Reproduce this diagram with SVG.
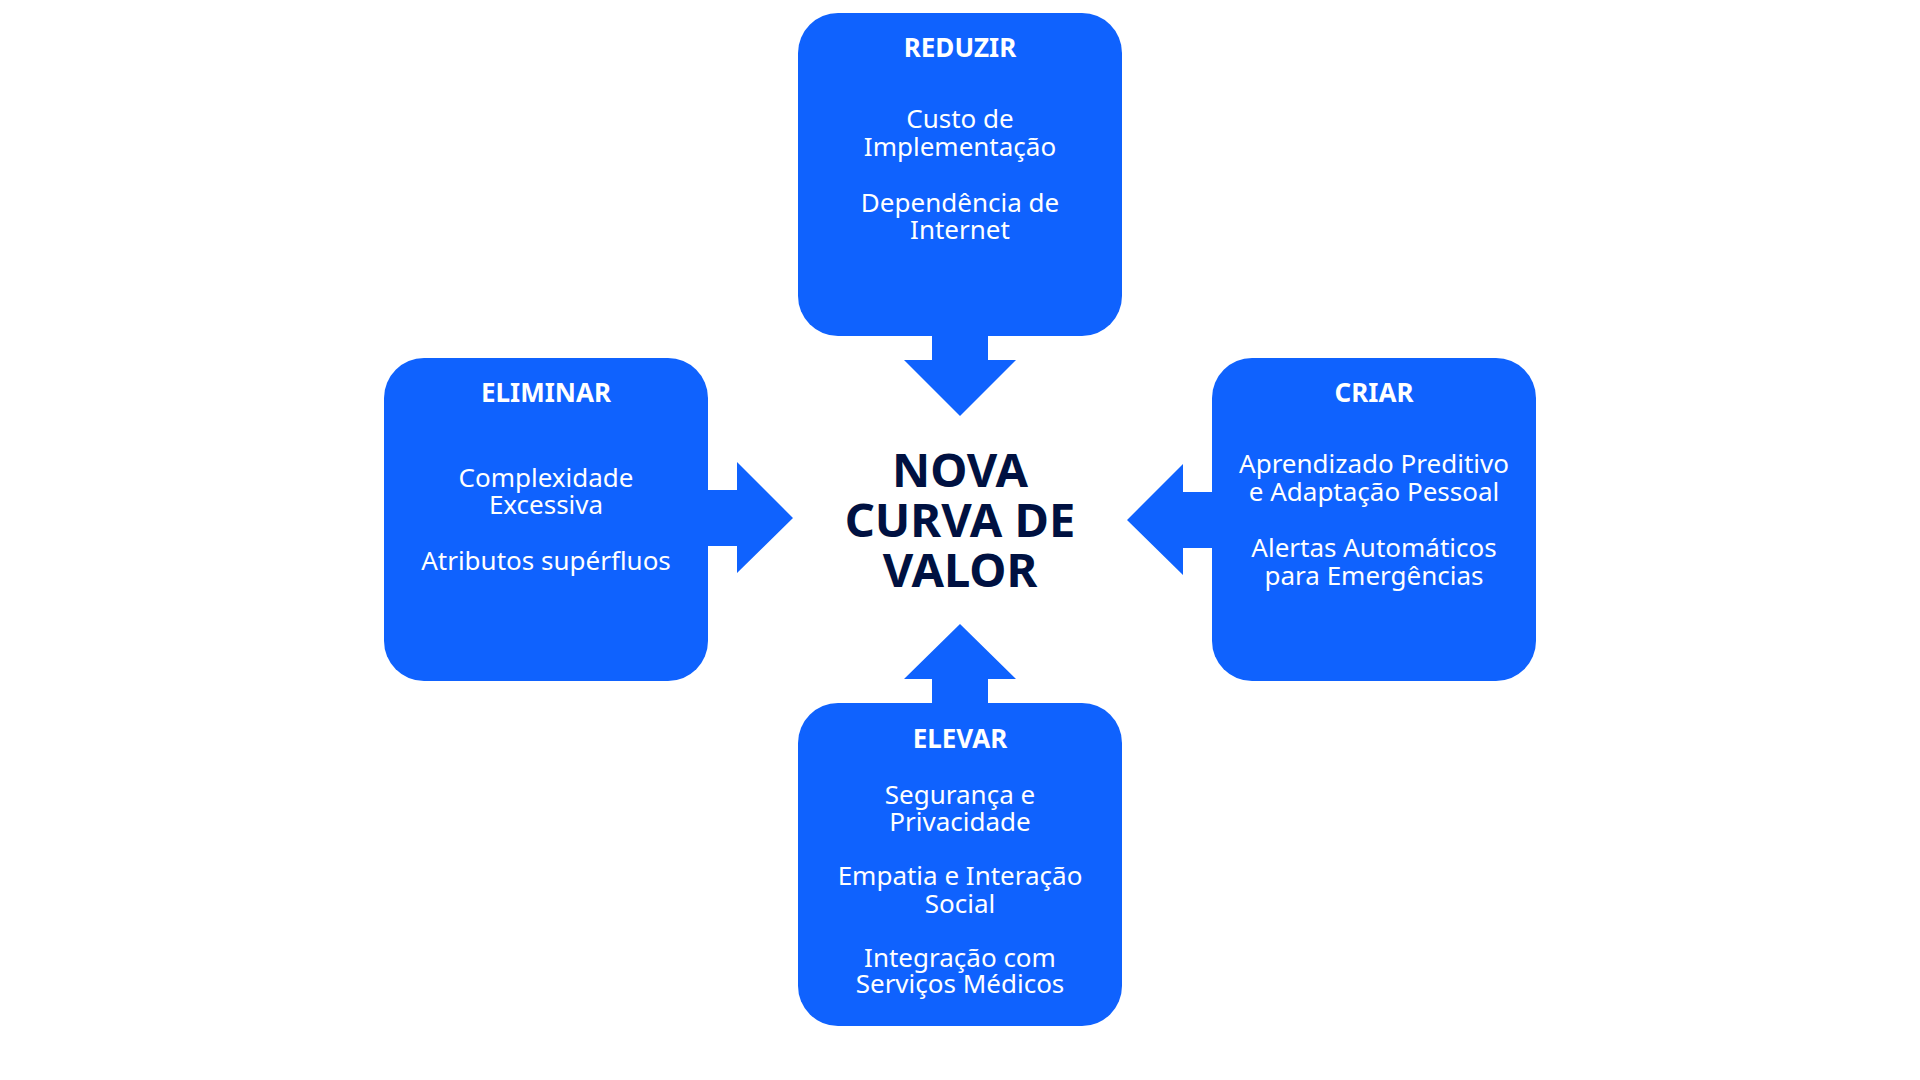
<svg xmlns="http://www.w3.org/2000/svg" width="1920" height="1080" viewBox="0 0 1920 1080">
<style>
.box{fill:#0f62fe}
.arr{fill:#0f62fe}
.t{font-family:"Noto Sans","Open Sans",sans-serif;font-weight:700;font-size:26px;fill:#ffffff;text-anchor:middle}
.b{font-family:"Noto Sans","Open Sans",sans-serif;font-size:26px;fill:#ffffff;text-anchor:middle}
.c{font-family:"Noto Sans","Open Sans",sans-serif;font-weight:700;font-size:47px;fill:#001141;text-anchor:middle}
</style>
<rect width="1920" height="1080" fill="#ffffff"/>
<g id="connectors">
<polygon class="arr" points="932,330 988,330 988,360 1016,360 960,416 904,360 932,360"/>
<polygon class="arr" points="700,490 737,490 737,462 793,518 737,573 737,546 700,546"/>
<polygon class="arr" points="1220,492 1183,492 1183,464 1127,520 1183,575 1183,548 1220,548"/>
<polygon class="arr" points="932,710 932,679 904,679 960,624 1016,679 988,679 988,710"/>
</g>
<g id="reduzir">
<rect class="box" x="798" y="13" width="324" height="323" rx="40"/>
<text class="t" x="960" y="57">REDUZIR</text>
<text class="b" x="960" y="128">Custo de<tspan x="960" dy="28">Implementação</tspan></text>
<text class="b" x="960" y="212">Dependência de<tspan x="960" dy="27">Internet</tspan></text>
</g>
<g id="eliminar">
<rect class="box" x="384" y="358" width="324" height="323" rx="40"/>
<text class="t" x="546" y="402">ELIMINAR</text>
<text class="b" x="546" y="487">Complexidade<tspan x="546" dy="27">Excessiva</tspan></text>
<text class="b" x="546" y="570">Atributos supérfluos</text>
</g>
<g id="criar">
<rect class="box" x="1212" y="358" width="324" height="323" rx="40"/>
<text class="t" x="1374" y="402">CRIAR</text>
<text class="b" x="1374" y="473">Aprendizado Preditivo<tspan x="1374" dy="28">e Adaptação Pessoal</tspan></text>
<text class="b" x="1374" y="557">Alertas Automáticos<tspan x="1374" dy="28">para Emergências</tspan></text>
</g>
<g id="elevar">
<rect class="box" x="798" y="703" width="324" height="323" rx="40"/>
<text class="t" x="960" y="748">ELEVAR</text>
<text class="b" x="960" y="804">Segurança e<tspan x="960" dy="27">Privacidade</tspan></text>
<text class="b" x="960" y="885">Empatia e Interação<tspan x="960" dy="28">Social</tspan></text>
<text class="b" x="960" y="967">Integração com<tspan x="960" dy="26">Serviços Médicos</tspan></text>
</g>
<g id="center">
<text class="c" x="960" y="487">NOVA<tspan x="960" dy="50">CURVA DE</tspan><tspan x="960" dy="50">VALOR</tspan></text>
</g>
</svg>
